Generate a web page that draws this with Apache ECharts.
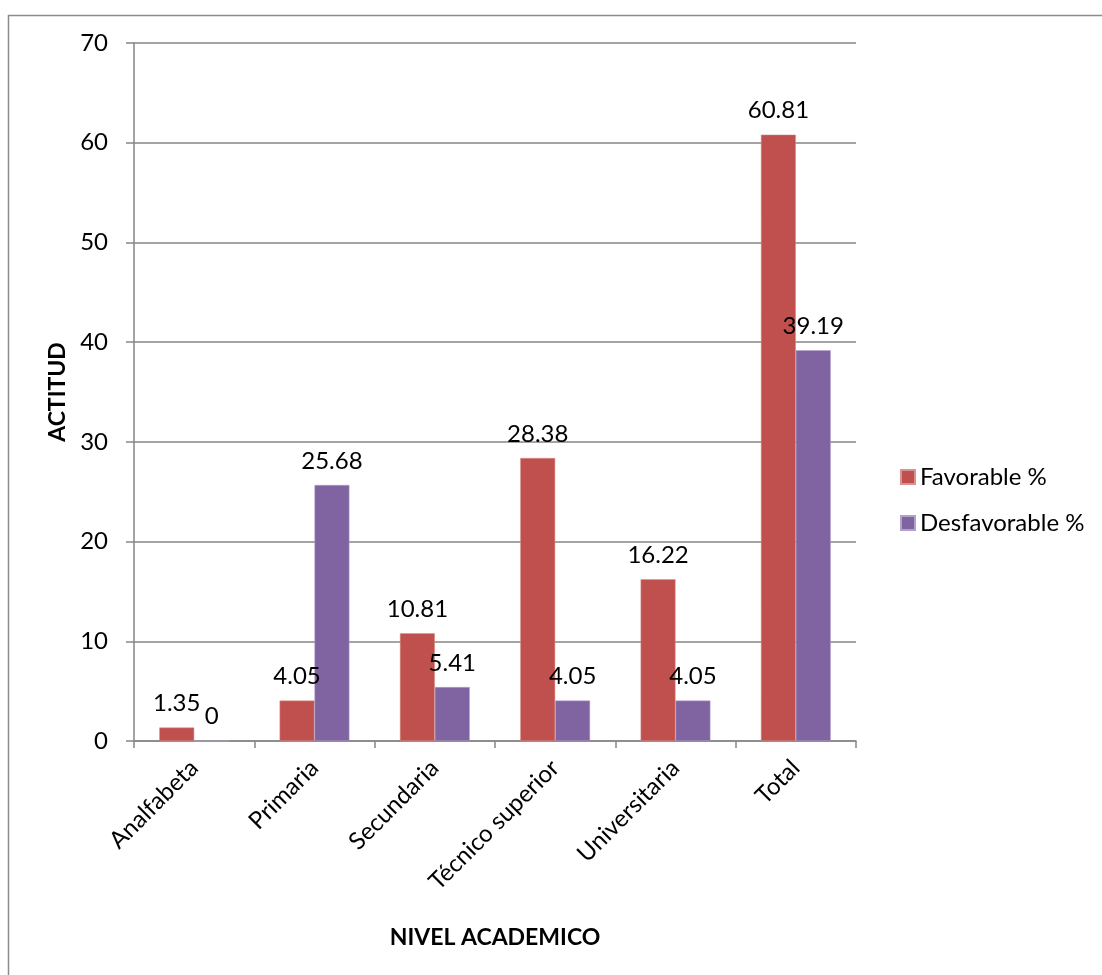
<!DOCTYPE html>
<html><head><meta charset="utf-8">
<script src="https://cdn.jsdelivr.net/npm/echarts@6/dist/echarts.min.js"></script>
<style>html,body{margin:0;padding:0;background:#fff}#c{width:1102px;height:975px}</style>
</head><body><div id="c"></div>
<script>
const categories = ['Analfabeta','Primaria','Secundaria','Técnico superior','Universitaria','Total'];
const favorable = [1.35, 4.05, 10.81, 28.38, 16.22, 60.81];
const desfavorable = [0, 25.68, 5.41, 4.05, 4.05, 39.19];
const seriesNames = ['Favorable %','Desfavorable %'];
const yTicks = {min:0, max:70, interval:10};

const FONT = 'Lato';
const FS = 24;
const chart = echarts.init(document.getElementById('c'));
const lbl = {show:true, position:'top', distance:12, color:'#000', fontSize:FS, fontFamily:FONT};
chart.setOption({
  animation:false,
  textStyle:{fontFamily:FONT},
  graphic:[{type:'rect', shape:{x:8.5,y:15.5,width:1200,height:1100}, style:{fill:null, stroke:'#8c8c8c', lineWidth:1.5}, silent:true}],
  grid:{left:134, right:246, top:43, bottom:234},
  legend:{orient:'vertical', left:895, top:460, itemWidth:14, itemHeight:14, itemGap:22, icon:'rect',
    textStyle:{fontSize:FS, color:'#000', fontFamily:FONT}, data:seriesNames},
  xAxis:{type:'category', data:categories,
    name:'NIVEL ACADEMICO', nameLocation:'middle', nameGap:185,
    nameTextStyle:{fontSize:23, fontWeight:'bold', color:'#000', fontFamily:FONT},
    axisLine:{lineStyle:{color:'#868686', width:1.5}},
    axisTick:{show:true, length:7, lineStyle:{color:'#868686', width:1.5}},
    axisLabel:{rotate:45, fontSize:FS, color:'#000', margin:23, fontFamily:FONT, interval:0}},
  yAxis:{type:'value', min:yTicks.min, max:yTicks.max, interval:yTicks.interval,
    name:'ACTITUD', nameLocation:'middle', nameGap:61,
    nameTextStyle:{fontSize:23, fontWeight:'bold', color:'#000', fontFamily:FONT},
    axisLine:{show:true, lineStyle:{color:'#868686', width:1.5}},
    axisTick:{show:true, length:8, lineStyle:{color:'#868686', width:1.5}},
    splitLine:{lineStyle:{color:'#868686', width:1.5}},
    axisLabel:{fontSize:FS, color:'#000', margin:26, fontFamily:FONT}},
  series:[
    {name:seriesNames[0], type:'bar', data:favorable, barGap:'0%', barCategoryGap:'42%',
      itemStyle:{color:'#C0504D', borderColor:'#d9928f', borderWidth:0.5}, label:lbl},
    {name:seriesNames[1], type:'bar', data:desfavorable,
      itemStyle:{color:'#8064A2', borderColor:'#b3a2c7', borderWidth:0.5}, label:lbl}
  ]
});
</script></body></html>
